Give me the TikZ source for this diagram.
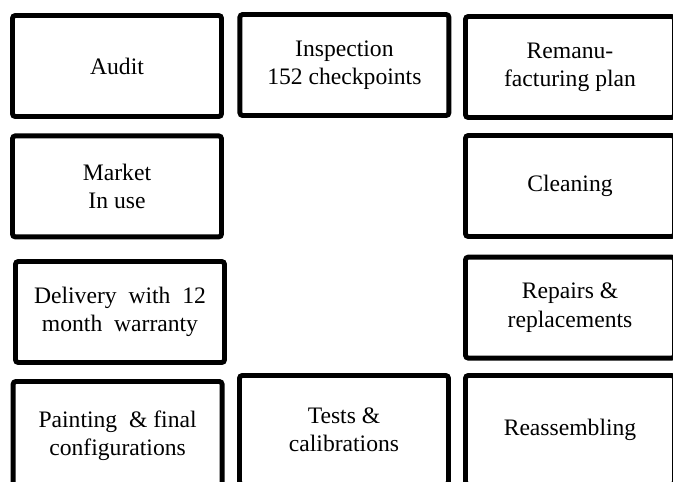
\documentclass[tikz,border=0pt]{standalone}
\usepackage{fontspec}
\setmainfont{Liberation Serif}
\usepackage{tikz}
\tikzstyle{stage} = [rectangle, rounded corners=2pt, draw=black, line width=3.5pt, fill=white, minimum width=5.225cm, minimum height=2.525cm, text centered, align=center, font=\fontsize{16.8}{20}\selectfont]
\tikzstyle{stagelow} = [stage, minimum height=2.725cm]

\begin{document}
\begin{tikzpicture}
            \useasboundingbox (0,0) rectangle (16.825,-12.025);
            \clip (0,0) rectangle (16.825,-12.025);
            \node [stage] at (2.925,-1.65) (audit) {Audit};
            \node [stage] at (8.61,-1.625) (inspection) {Inspection\\152 checkpoints};
            \node [stage] at (14.25,-1.675) (plan) {Remanu-\\facturing plan};
            \node [stage] at (2.925,-4.66) (market) {Market\\In use};
            \node [stage] at (14.25,-4.65) (cleaning) {Cleaning};
            \node [stage] at (3.0,-7.8) (delivery) {Delivery~~with~~12\\month~~warranty};
            \node [stage] at (14.25,-7.69) (repairs) {Repairs \&\\replacements};
            \node [stagelow] at (2.94,-10.9) (painting) {Painting~~\&~final\\configurations};
            \node [stagelow] at (8.6,-10.75) (tests) {Tests \&\\calibrations};
            \node [stagelow] at (14.25,-10.75) (reassembling) {Reassembling};
\end{tikzpicture}
\end{document}
